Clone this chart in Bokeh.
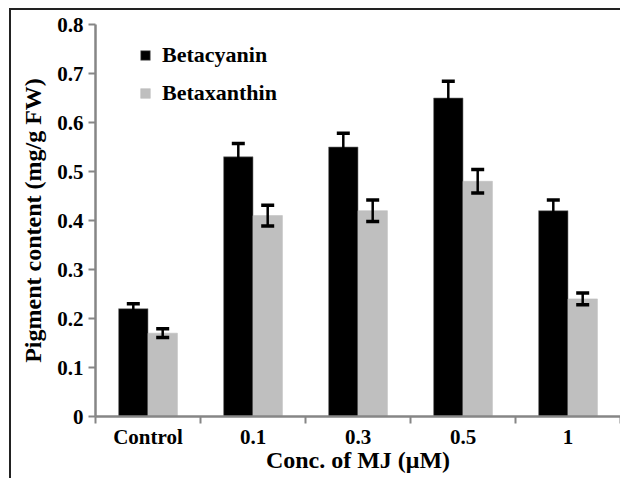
from bokeh.plotting import figure
from bokeh.models import (ColumnDataSource, FixedTicker, Range1d, Whisker, TeeHead,
                          Legend, LegendItem)
from bokeh.embed import file_html
from bokeh.resources import INLINE

# ---- data ----
categories = ["Control", "0.1", "0.3", "0.5", "1"]
betacyanin = [0.22, 0.53, 0.55, 0.65, 0.42]
betacyanin_err = [0.010, 0.027, 0.028, 0.034, 0.022]
betaxanthin = [0.17, 0.41, 0.42, 0.48, 0.24]
betaxanthin_err = [0.009, 0.021, 0.022, 0.024, 0.012]
y_ticks = [0, 0.1, 0.2, 0.3, 0.4, 0.5, 0.6, 0.7, 0.8]
y_tick_labels = ["0", "0.1", "0.2", "0.3", "0.4", "0.5", "0.6", "0.7", "0.8"]

FONT = "Liberation Serif"
AXIS_GRAY = "#868686"
BAR_W = 0.28

centers = [i + 0.5 for i in range(len(categories))]
x_black = [c - BAR_W / 2 for c in centers]
x_gray = [c + BAR_W / 2 for c in centers]

src_b = ColumnDataSource(dict(
    x=x_black, top=betacyanin,
    upper=[v + e for v, e in zip(betacyanin, betacyanin_err)],
    lower=[v - e for v, e in zip(betacyanin, betacyanin_err)]))
src_g = ColumnDataSource(dict(
    x=x_gray, top=betaxanthin,
    upper=[v + e for v, e in zip(betaxanthin, betaxanthin_err)],
    lower=[v - e for v, e in zip(betaxanthin, betaxanthin_err)]))

p = figure(width=611, height=470, output_backend="svg", toolbar_location=None,
           x_range=Range1d(0, len(categories)), y_range=Range1d(0, 0.8),
           min_border_left=84, min_border_top=14, min_border_right=2,
           min_border_bottom=64)
p.outline_line_color = None
p.xgrid.visible = False
p.ygrid.visible = False
p.background_fill_color = "white"
p.border_fill_color = "white"
p.styles = {"margin-left": "9px", "margin-top": "8px",
            "border-top": "2px solid #222222", "border-left": "2px solid #222222"}

rb = p.vbar(x="x", top="top", width=BAR_W, source=src_b, fill_color="black",
            line_color="#7a7a7a", line_width=0.6)
rg = p.vbar(x="x", top="top", width=BAR_W, source=src_g, fill_color="#bfbfbf",
            line_color="#bfbfbf", line_width=0.6)

for src in (src_b, src_g):
    w = Whisker(base="x", upper="upper", lower="lower", source=src,
                level="overlay",
                line_color="black", line_width=2.5,
                upper_head=TeeHead(size=13, line_width=3.5, line_color="black"),
                lower_head=TeeHead(size=13, line_width=3.5, line_color="black"))
    p.add_layout(w)

# x axis: ticks at category boundaries (minor), labels at centers
xa = p.xaxis[0]
xa.ticker = FixedTicker(ticks=centers, minor_ticks=list(range(len(categories) + 1)))
xa.major_label_overrides = {c: lab for c, lab in zip(centers, categories)}
xa.major_tick_line_color = None
xa.major_tick_out = 0
xa.major_tick_in = 0
xa.minor_tick_out = 7
xa.minor_tick_in = 0
xa.minor_tick_line_color = AXIS_GRAY
xa.minor_tick_line_width = 2
xa.axis_line_color = AXIS_GRAY
xa.axis_line_width = 2.5
xa.major_label_standoff = 1
xa.major_label_text_font = FONT
xa.major_label_text_font_style = "bold"
xa.major_label_text_font_size = "21px"
xa.major_label_text_color = "black"
xa.axis_label = "Conc. of MJ (\u03bcM)"
xa.axis_label_text_font = FONT
xa.axis_label_text_font_style = "bold"
xa.axis_label_text_font_size = "24px"
xa.axis_label_text_color = "black"
xa.axis_label_standoff = -5

ya = p.yaxis[0]
ya.ticker = FixedTicker(ticks=y_ticks)
ya.major_label_overrides = {t: lab for t, lab in zip(y_ticks, y_tick_labels)}
ya.major_tick_out = 7
ya.major_tick_in = 0
ya.major_tick_line_color = AXIS_GRAY
ya.major_tick_line_width = 2
ya.minor_tick_line_color = None
ya.axis_line_color = AXIS_GRAY
ya.axis_line_width = 2.5
ya.major_label_standoff = 5
ya.major_label_text_font = FONT
ya.major_label_text_font_style = "bold"
ya.major_label_text_font_size = "21px"
ya.major_label_text_color = "black"
ya.axis_label = "Pigment content (mg/g FW)"
ya.axis_label_text_font = FONT
ya.axis_label_text_font_style = "bold"
ya.axis_label_text_font_size = "24px"
ya.axis_label_text_color = "black"
ya.axis_label_standoff = 8

legend = Legend(items=[LegendItem(label="Betacyanin", renderers=[rb]),
                       LegendItem(label="Betaxanthin", renderers=[rg])],
                location=(44, 310), orientation="vertical",
                glyph_width=12, glyph_height=12, label_standoff=11,
                label_text_font=FONT, label_text_font_style="bold",
                label_text_font_size="22px", label_text_color="black",
                spacing=12, padding=0, margin=0,
                border_line_color=None, background_fill_alpha=0)
p.add_layout(legend)

open("out.html", "w").write(file_html(p, INLINE))
